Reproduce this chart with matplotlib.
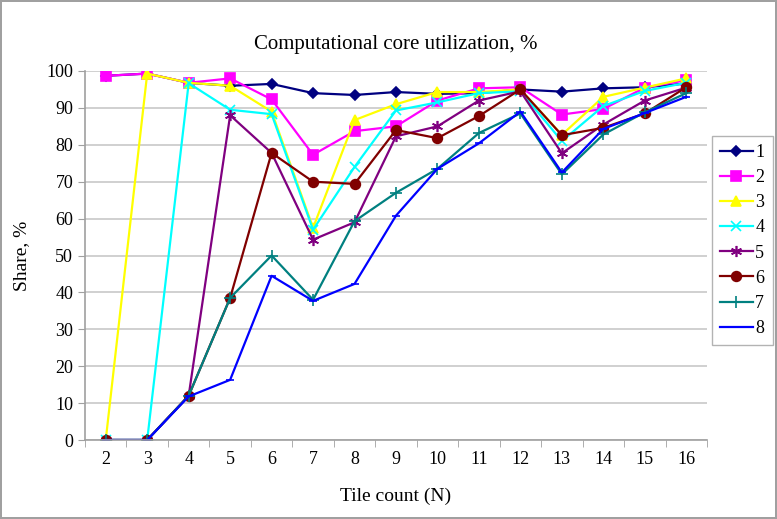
import matplotlib.pyplot as plt
import numpy as np

plt.rcParams['font.family'] = ['Liberation Serif', 'DejaVu Serif']

tiles = [2, 3, 4, 5, 6, 7, 8, 9, 10, 11, 12, 13, 14, 15, 16]
s1 = [98.7, 99.3, 96.8, 96.0, 96.5, 94.0, 93.5, 94.3, 93.8, 94.0, 95.0, 94.4, 95.3, 95.6, 96.6]
s2 = [98.7, 99.3, 96.8, 98.0, 92.3, 77.3, 83.7, 85.0, 92.0, 95.3, 95.6, 88.2, 89.7, 95.5, 97.5]
s3 = [0, 99.3, 96.8, 96.0, 89.0, 57.5, 86.7, 91.0, 94.3, 94.3, 95.0, 82.7, 93.0, 95.5, 98.0]
s4 = [0, 0, 96.7, 89.5, 88.3, 57.0, 74.0, 89.3, 91.5, 94.0, 94.5, 81.0, 90.5, 94.6, 96.8]
s5 = [0, 0, 12.0, 88.0, 77.8, 54.3, 59.0, 82.3, 85.0, 92.0, 94.5, 77.7, 85.5, 92.0, 95.5]
s6 = [0, 0, 12.0, 38.5, 77.8, 70.0, 69.4, 84.0, 81.8, 87.8, 95.0, 82.6, 84.6, 88.5, 95.6]
s7 = [0, 0, 12.0, 38.5, 50.0, 38.0, 59.3, 67.0, 73.5, 83.2, 88.5, 72.0, 82.8, 88.8, 94.0]
s8 = [0, 0, 11.8, 16.3, 44.5, 37.7, 42.3, 60.8, 73.5, 80.4, 89.0, 72.5, 84.3, 88.6, 93.0]

series = [s1, s2, s3, s4, s5, s6, s7, s8]
names = ['1', '2', '3', '4', '5', '6', '7', '8']
colors = ['#000080', '#FF00FF', '#FFFF00', '#00FFFF', '#800080', '#800000', '#008080', '#0000FF']
markers = ['D', 's', '^', 'x', (6, 2, 0), 'o', '+', '_']
msizes = [5, 7.5, 7, 7, 8, 7, 8, 6]

fig = plt.figure(figsize=(7.77, 5.19), dpi=100)
fig.patch.set_edgecolor('#A0A0A0')
fig.patch.set_linewidth(1.5)
ax = fig.add_axes([0.1094, 0.1522, 0.8005, 0.711])

x = np.arange(len(tiles))
for s, n, c, m, ms in zip(series, names, colors, markers, msizes):
    ax.plot(x, s, color=c, marker=m, markersize=ms, linewidth=1.6, label=n,
            markeredgewidth=1.2)

ax.set_xlim(-0.5, len(tiles) - 0.5)
ax.set_ylim(0, 100)
ax.set_yticks(range(0, 101, 10))
ax.set_xticks(x)
ax.set_xticklabels([str(t) for t in tiles])
ax.set_xticks(np.arange(-0.5, len(tiles), 1), minor=True)
ax.tick_params(axis='x', which='major', length=0, labelsize=13, pad=8)
ax.tick_params(axis='x', which='minor', length=5, color='#A0A0A0', direction='out')
ax.tick_params(axis='y', length=5, color='#A0A0A0', labelsize=13)
ax.yaxis.grid(True, color='#C8C8C8', linewidth=1.2)
ax.set_axisbelow(True)
for side in ['top', 'right']:
    ax.spines[side].set_visible(False)
for side in ['left', 'bottom']:
    ax.spines[side].set_color('#A0A0A0')
    ax.spines[side].set_linewidth(1.2)

ax.set_title('Computational core utilization, %', fontsize=15, pad=16)
ax.set_xlabel('Tile count (N)', fontsize=14, labelpad=14)
ax.set_ylabel('Share, %', fontsize=14, labelpad=12)

leg = fig.legend(loc='upper left', bbox_to_anchor=(712 / 777, 1 - 136 / 519),
                 bbox_transform=fig.transFigure, fontsize=13,
                 frameon=True, fancybox=False, handlelength=1.8, labelspacing=0.45,
                 borderpad=0.45, handletextpad=0.15, borderaxespad=0)
leg.get_frame().set_edgecolor('#A0A0A0')

fig.savefig('out.png', dpi=100, edgecolor=fig.get_edgecolor())
